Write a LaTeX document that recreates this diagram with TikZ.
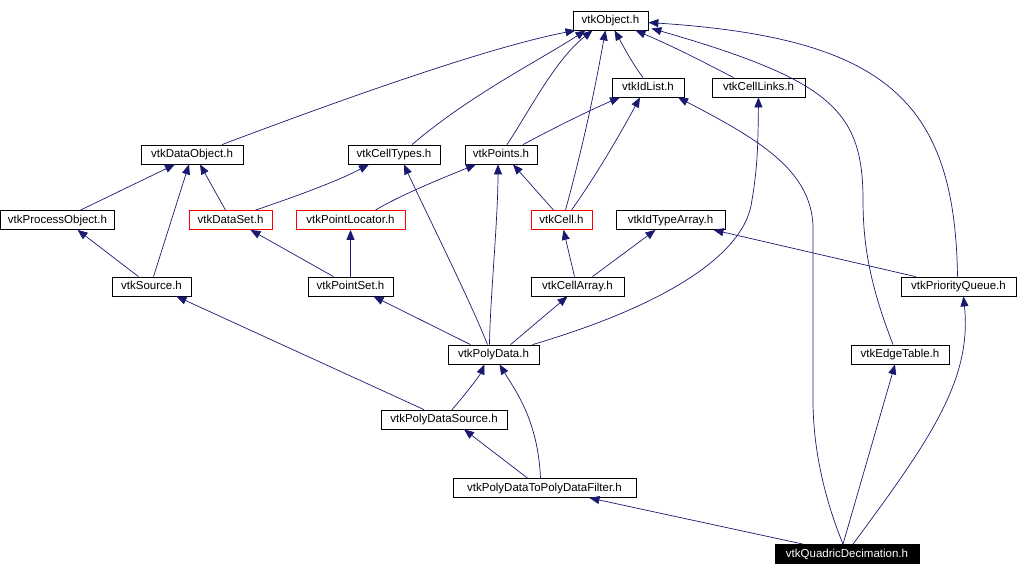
\documentclass[tikz,border=0pt]{standalone}
\usepackage{fontspec}
\setmainfont{Liberation Sans}
\usetikzlibrary{arrows.meta}
\definecolor{edgec}{HTML}{191970}
\tikzset{
  box/.style={draw=black, line width=0.8pt, fill=white, minimum height=19pt, inner sep=0pt,
    text height=8.5pt, text depth=2pt,
    font=\fontsize{11.5}{13}\selectfont, text=black},
  redbox/.style={box, draw=red},
  blackbox/.style={box, fill=black, text=white},
  edge/.style={draw=edgec, line width=0.7pt, -{Triangle[length=10pt,width=8pt]}},
}
\begin{document}
\begin{tikzpicture}[x=1pt,y=-1pt]
\useasboundingbox (0,0) rectangle (1018,576);
% nodes
\node[box, minimum width=75pt]  (obj)   at (610.5,20.5) {vtkObject.h};
\node[box, minimum width=72pt]  (idl)   at (648,87.5) {vtkIdList.h};
\node[box, minimum width=93pt]  (clk)   at (758.5,87.5) {vtkCellLinks.h};
\node[box, minimum width=102pt] (dobj)  at (192,154.5) {vtkDataObject.h};
\node[box, minimum width=92pt]  (ctyp)  at (394,154.5) {vtkCellTypes.h};
\node[box, minimum width=72pt]  (pts)   at (501,154.5) {vtkPoints.h};
\node[box, minimum width=114pt] (pobj)  at (57.5,220) {vtkProcessObject.h};
\node[redbox, minimum width=83pt]  (dset)  at (230.5,220) {vtkDataSet.h};
\node[redbox, minimum width=109pt] (ploc)  at (350.5,220) {vtkPointLocator.h};
\node[redbox, minimum width=61pt]  (cell)  at (561.5,220) {vtkCell.h};
\node[box, minimum width=109pt] (ita)   at (670.5,220) {vtkIdTypeArray.h};
\node[box, minimum width=79pt]  (src)   at (151.5,286.5) {vtkSource.h};
\node[box, minimum width=85pt]  (pset)  at (350.5,286.5) {vtkPointSet.h};
\node[box, minimum width=93pt]  (carr)  at (577.5,286.5) {vtkCellArray.h};
\node[box, minimum width=115pt] (pq)    at (958.5,286.5) {vtkPriorityQueue.h};
\node[box, minimum width=91pt]  (pd)    at (493.5,354.5) {vtkPolyData.h};
\node[box, minimum width=98pt]  (et)    at (900,354.5) {vtkEdgeTable.h};
\node[box, minimum width=126pt] (pds)   at (444,419.5) {vtkPolyDataSource.h};
\node[box, minimum width=183pt] (pdf)   at (544.5,488) {vtkPolyDataToPolyDataFilter.h};
\node[blackbox, minimum width=144pt] (qd) at (847,554) {vtkQuadricDecimation.h};
% edges to vtkObject
\draw[edge] ([xshift=30]dobj.north) .. controls (380,85) and (500,45) .. ([xshift=-35]obj.south);
\draw[edge] ([xshift=18]ctyp.north) .. controls (470,95) and (540,60) .. ([xshift=-25]obj.south);
\draw[edge] ([xshift=6]pts.north) .. controls (530,110) and (555,60) .. ([xshift=-18]obj.south);
\draw[edge] ([xshift=4]cell.north) .. controls (590,120) and (600,60) .. ([xshift=-5]obj.south);
\draw[edge] ([xshift=-5]idl.north) .. controls (630,60) and (620,40) .. ([xshift=4]obj.south);
\draw[edge] ([xshift=-25]clk.north) .. controls (700,60) and (670,45) .. ([xshift=25]obj.south);
\draw[edge] ([xshift=-7]et.north) .. controls (872,290) and (863,250) .. (863,200)
  .. controls (863,110) and (830,80) .. ([xshift=3,yshift=2]obj.south east);
\draw[edge] ([xshift=-1]pq.north) .. controls (955,100) and (885,38) .. ([yshift=-2]obj.east);
% edges to vtkIdList
\draw[edge] ([xshift=22]pts.north) .. controls (550,130) and (590,110) .. ([xshift=-28]idl.south);
\draw[edge] ([xshift=10]cell.north) .. controls (600,170) and (625,125) .. ([xshift=-8]idl.south);
\draw[edge] ([xshift=-4]qd.north) .. controls (825,500) and (813,450) .. (813,400) -- (813,225)
  .. controls (810,170) and (760,140) .. ([xshift=30]idl.south);
% edge to vtkCellLinks
\draw[edge] ([xshift=39]pd.north) .. controls (650,310) and (745,260) .. (752,200)
  .. controls (757,170) and (758,150) .. (clk.south);
% edges to vtkDataObject
\draw[edge] ([xshift=23]pobj.north) -- ([xshift=-17]dobj.south);
\draw[edge] ([xshift=2]src.north) -- ([xshift=-3]dobj.south);
\draw[edge] ([xshift=-5]dset.north) -- ([xshift=8]dobj.south);
% edges to vtkCellTypes
\draw[edge] ([xshift=25]dset.north) .. controls (300,195) and (340,180) .. ([xshift=-25]ctyp.south);
\draw[edge] ([xshift=-6]pd.north) .. controls (470,300) and (420,200) .. ([xshift=10]ctyp.south);
% edges to vtkPoints
\draw[edge] ([xshift=25]ploc.north) .. controls (400,195) and (450,175) .. ([xshift=-25]pts.south);
\draw[edge] ([xshift=-4]pd.north) .. controls (490,300) and (498,220) .. ([xshift=-3]pts.south);
\draw[edge] ([xshift=-8]cell.north) -- ([xshift=12]pts.south);
% others
\draw[edge] ([xshift=-13]src.north) -- ([xshift=20]pobj.south);
\draw[edge] ([xshift=-17]pset.north) -- ([xshift=20]dset.south);
\draw[edge] (pset.north) -- (ploc.south);
\draw[edge] ([xshift=-3]carr.north) -- ([xshift=2]cell.south);
\draw[edge] ([xshift=15]carr.north) -- ([xshift=-15]ita.south);
\draw[edge] ([xshift=-43]pq.north) -- ([xshift=43]ita.south);
\draw[edge] ([xshift=-20]pds.north) -- ([xshift=25]src.south);
\draw[edge] ([xshift=-23]pd.north) -- ([xshift=23]pset.south);
\draw[edge] ([xshift=17]pd.north) -- ([xshift=-10]carr.south);
\draw[edge] ([xshift=8]pds.north) .. controls (465,395) and (480,375) .. ([xshift=-9]pd.south);
\draw[edge] ([xshift=-4]pdf.north) .. controls (538,420) and (515,390) .. ([xshift=6]pd.south);
\draw[edge] ([xshift=-17]pdf.north) -- ([xshift=20]pds.south);
\draw[edge] ([xshift=-44]qd.north) -- ([xshift=45]pdf.south);
\draw[edge] ([xshift=-4]qd.north) -- ([xshift=-5]et.south);
\draw[edge] ([xshift=6]qd.north) .. controls (930,440) and (972,380) .. ([xshift=5]pq.south);
\end{tikzpicture}
\end{document}
